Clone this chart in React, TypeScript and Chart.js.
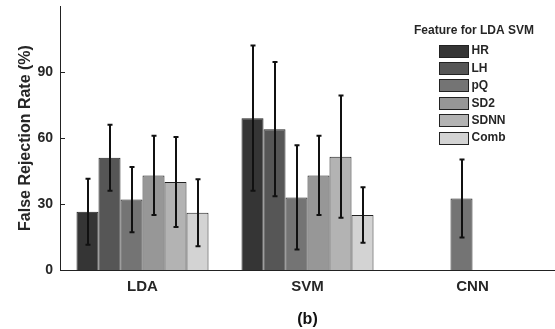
import React, { useEffect, useRef } from 'react';
import { Chart, registerables } from 'chart.js';

Chart.register(...registerables);

const categories = ['LDA', 'SVM', 'CNN'];
const features = ['HR', 'LH', 'pQ', 'SD2', 'SDNN', 'Comb'];

const hrValues = [26.5, 69, null];
const lhValues = [51, 64, null];
const pqValues = [32, 33, 32.5];
const sd2Values = [43, 43, null];
const sdnnValues = [40, 51.5, null];
const combValues = [26, 25, null];

const hrErrors = [15, 33, null];
const lhErrors = [15, 30.5, null];
const pqErrors = [14.8, 23.7, 17.7];
const sd2Errors = [18, 18, null];
const sdnnErrors = [20.5, 27.8, null];
const combErrors = [15.2, 12.6, null];

const yTicks = [0, 30, 60, 90];
const yMax = 120;

const featureColors = ['#353535', '#565656', '#747474', '#979797', '#b3b3b3', '#d3d3d3'];

const FONT = '"Liberation Sans", Arial, sans-serif';
const TEXT = '#262626';

const errorBarPlugin = {
  id: 'errorBars',
  afterDatasetsDraw(chart: any) {
    const ctx = chart.ctx;
    const y = chart.scales.y;
    chart.data.datasets.forEach((ds: any, i: number) => {
      const meta = chart.getDatasetMeta(i);
      meta.data.forEach((bar: any, j: number) => {
        const v = ds.data[j];
        const e = ds.errors ? ds.errors[j] : null;
        if (v == null || e == null) return;
        const top = y.getPixelForValue(v + e);
        const bot = y.getPixelForValue(v - e);
        const x = Math.round(bar.x);
        ctx.save();
        ctx.strokeStyle = '#111';
        ctx.lineWidth = 2;
        ctx.beginPath();
        ctx.moveTo(x, top);
        ctx.lineTo(x, bot);
        ctx.moveTo(x - 2.5, top);
        ctx.lineTo(x + 2.5, top);
        ctx.moveTo(x - 2.5, bot);
        ctx.lineTo(x + 2.5, bot);
        ctx.stroke();
        ctx.restore();
      });
    });
  },
};

const innerTicksPlugin = {
  id: 'innerTicks',
  afterDraw(chart: any) {
    const ctx = chart.ctx;
    const y = chart.scales.y;
    const left = chart.chartArea.left;
    ctx.save();
    ctx.strokeStyle = '#222';
    ctx.lineWidth = 1;
    ctx.beginPath();
    y.ticks.forEach((t: any) => {
      const py = Math.round(y.getPixelForValue(t.value)) + 0.5;
      ctx.moveTo(left, py);
      ctx.lineTo(left + 5, py);
    });
    ctx.stroke();
    ctx.restore();
  },
};

const legendPlugin = {
  id: 'insideLegend',
  afterDraw(chart: any) {
    const ctx = chart.ctx;
    ctx.save();
    ctx.fillStyle = TEXT;
    ctx.font = `bold 12px ${FONT}`;
    ctx.textAlign = 'center';
    ctx.textBaseline = 'middle';
    ctx.fillText('Feature for LDA SVM', 474, 31);
    ctx.textAlign = 'left';
    chart.data.datasets.forEach((ds: any, i: number) => {
      const cy = 50.5 + i * 17.4;
      const bx = 439.5;
      const by = Math.round(cy - 6) + 0.5;
      ctx.fillStyle = ds.backgroundColor;
      ctx.fillRect(bx, by, 29, 12);
      ctx.strokeStyle = '#222';
      ctx.lineWidth = 1;
      ctx.strokeRect(bx, by, 29, 12);
      ctx.fillStyle = TEXT;
      ctx.fillText(ds.label, 471.5, cy + 0.5);
    });
    ctx.restore();
  },
};

export default function App() {
  const canvasRef = useRef<HTMLCanvasElement | null>(null);

  useEffect(() => {
    const canvas = canvasRef.current;
    if (!canvas) return;
    const valueSets = [hrValues, lhValues, pqValues, sd2Values, sdnnValues, combValues];
    const errorSets = [hrErrors, lhErrors, pqErrors, sd2Errors, sdnnErrors, combErrors];
    const chart = new Chart(canvas, {
      type: 'bar',
      data: {
        labels: categories,
        datasets: features.map((f, i) => ({
          label: f,
          data: valueSets[i],
          errors: errorSets[i],
          backgroundColor: featureColors[i],
          borderColor: '#222',
          borderWidth: 1,
          categoryPercentage: 0.8,
          barPercentage: 1.0,
        })) as any,
      },
      options: {
        animation: false,
        responsive: false,
        devicePixelRatio: 1,
        layout: { padding: { top: 6, right: 0, left: 0, bottom: 0 } },
        plugins: {
          legend: { display: false },
          tooltip: { enabled: false },
          title: { display: false },
        },
        scales: {
          x: {
            type: 'category',
            grid: { display: false, drawTicks: false },
            border: { display: true, color: '#222', width: 1 },
            ticks: {
              color: TEXT,
              font: { family: FONT, size: 15, weight: 'bold' },
              padding: 8,
              maxRotation: 0,
            },
            title: {
              display: true,
              text: '(b)',
              color: '#111',
              font: { family: FONT, size: 16, weight: 'bold' },
              padding: { top: 0, bottom: 0 },
            },
            afterFit: (s: any) => {
              s.height = 59;
              s.paddingLeft = 0;
              s.paddingRight = 0;
            },
          },
          y: {
            min: 0,
            max: yMax,
            grid: { display: false, drawTicks: false },
            border: { display: true, color: '#222', width: 1 },
            afterBuildTicks: (s: any) => {
              s.ticks = yTicks.map((v) => ({ value: v }));
            },
            ticks: {
              color: TEXT,
              font: { family: FONT, size: 14, weight: 'bold' },
              padding: 7,
            },
            title: {
              display: true,
              text: 'False Rejection Rate (%)',
              color: TEXT,
              font: { family: FONT, size: 16, weight: 'bold' },
              padding: { top: 16, bottom: 0 },
            },
            afterFit: (s: any) => {
              s.width = 60;
              s.paddingTop = 0;
              s.paddingBottom = 0;
            },
          },
        },
      } as any,
      plugins: [errorBarPlugin, innerTicksPlugin, legendPlugin],
    });
    return () => chart.destroy();
  }, []);

  return (
    <div style={{ position: 'fixed', left: 0, top: 0, width: 555, height: 329, background: '#fff' }}>
      <canvas ref={canvasRef} width={555} height={329} style={{ width: 555, height: 329 }} />
    </div>
  );
}
